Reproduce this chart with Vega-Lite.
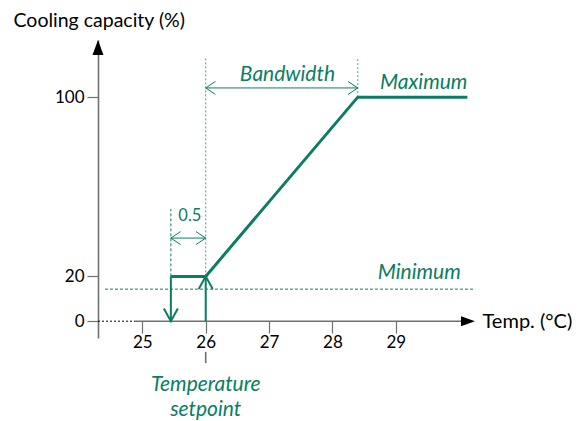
{
  "$schema": "https://vega.github.io/schema/vega-lite/v6.json",
  "width": 377,
  "height": 298,
  "autosize": {"type": "none"},
  "padding": {"left": 98, "top": 40, "right": 110, "bottom": 83},
  "background": "white",
  "config": {"view": {"stroke": null}, "font": "Lato"},
  "datasets": {
    "curve": [
      {"i": 0, "temp": 25.45, "cap": 20},
      {"i": 1, "temp": 26, "cap": 20},
      {"i": 2, "temp": 28.4, "cap": 100},
      {"i": 3, "temp": 30.13, "cap": 100}
    ],
    "segs": [
      {"kind": "shaft", "x": 25.45, "y": 20, "x2": 25.45, "y2": 0.3},
      {"kind": "shaft", "x": 26, "y": 0, "x2": 26, "y2": 19.7},
      {"kind": "dash", "x": 25.45, "y": 20, "x2": 25.45, "y2": 50.1},
      {"kind": "dot", "x": 26, "y": 20, "x2": 26, "y2": 117.9},
      {"kind": "dot", "x": 28.4, "y": 100, "x2": 28.4, "y2": 117.9},
      {"kind": "thin", "x": 26, "y": 104.1, "x2": 28.4, "y2": 104.1},
      {"kind": "thin", "x": 25.45, "y": 37.1, "x2": 26, "y2": 37.1},
      {"kind": "min", "x": 24.41, "y": 14.3, "x2": 30.25, "y2": 14.3},
      {"kind": "xdot", "x": 24.3, "y": 0, "x2": 24.885, "y2": 0},
      {"kind": "xaxis", "x": 24.885, "y": 0, "x2": 30.1, "y2": 0},
      {"kind": "tick", "x": 26, "y": -13.75, "x2": 26, "y2": -18.7}
    ],
    "heads": [
      {"kind": "down", "x": 25.45, "y": 0},
      {"kind": "up", "x": 26, "y": 20},
      {"kind": "left", "x": 26, "y": 104.1},
      {"kind": "right", "x": 28.4, "y": 104.1},
      {"kind": "left", "x": 25.45, "y": 37.1},
      {"kind": "right", "x": 26, "y": 37.1},
      {"kind": "yarrow", "x": 24.3, "y": 125.5},
      {"kind": "xarrow", "x": 30.25, "y": 0}
    ],
    "labels": [
      {"kind": "green", "x": 27.29, "y": 109.9, "text": "Bandwidth"},
      {"kind": "green", "x": 29.44, "y": 106.3, "text": "Maximum"},
      {"kind": "green", "x": 29.37, "y": 21.5, "text": "Minimum"},
      {"kind": "green", "x": 26.0, "y": -28.5, "text": "Temperature"},
      {"kind": "green", "x": 26.0, "y": -39.6, "text": "setpoint"},
      {"kind": "small", "x": 25.75, "y": 46.9, "text": "0.5"}
    ]
  },
  "layer": [
    {
      "data": {"name": "segs"},
      "transform": [{"filter": "datum.kind === 'min'"}],
      "mark": {"type": "rule", "color": "#0a7d63", "strokeWidth": 1, "strokeDash": [3, 2]},
      "encoding": {
        "x": {"field": "x", "type": "quantitative", "scale": {"domain": [24.3, 30.25], "nice": false, "zero": false},
          "axis": {"values": [25, 26, 27, 28, 29], "format": "d", "domain": false, "grid": false, "offset": -17, "tickSize": 12, "tickColor": "#707070", "tickWidth": 1.2,
            "labelFontSize": 17, "labelColor": "#000000", "labelPadding": 1, "labelFont": "Lato",
            "title": "Temp. (°C)", "titleX": 384, "titleY": 0, "titleAlign": "left", "titleBaseline": "middle", "titleAnchor": null,
            "titleFontSize": 20, "titleFontWeight": "normal", "titleColor": "#000000", "titleFont": "Lato"}},
        "y": {"field": "y", "type": "quantitative", "scale": {"domain": [-7.5, 125.5], "nice": false, "zero": false},
          "axis": {"values": [0, 20, 100], "domain": true, "domainColor": "#707070", "domainWidth": 1.6, "grid": false, "tickSize": 11, "tickColor": "#707070", "tickWidth": 1.2,
            "labelFontSize": 17, "labelColor": "#000000", "labelPadding": 3, "labelFont": "Lato",
            "title": "Cooling capacity (%)", "titleAngle": 0, "titleX": -85, "titleY": -20, "titleAlign": "left", "titleBaseline": "middle", "titleAnchor": null,
            "titleFontSize": 19.5, "titleFontWeight": "normal", "titleColor": "#000000", "titleFont": "Lato"}},
        "x2": {"field": "x2"},
        "y2": {"field": "y2"}
      }
    },
    {
      "data": {"name": "segs"},
      "transform": [{"filter": "datum.kind === 'dash'"}],
      "mark": {"type": "rule", "color": "#0a7d63", "strokeWidth": 1, "strokeDash": [3, 2]},
      "encoding": {"x": {"field": "x", "type": "quantitative"}, "y": {"field": "y", "type": "quantitative"}, "x2": {"field": "x2"}, "y2": {"field": "y2"}}
    },
    {
      "data": {"name": "segs"},
      "transform": [{"filter": "datum.kind === 'dot'"}],
      "mark": {"type": "rule", "color": "#3fa68c", "strokeWidth": 1, "strokeDash": [2, 2]},
      "encoding": {"x": {"field": "x", "type": "quantitative"}, "y": {"field": "y", "type": "quantitative"}, "x2": {"field": "x2"}, "y2": {"field": "y2"}}
    },
    {
      "data": {"name": "segs"},
      "transform": [{"filter": "datum.kind === 'thin'"}],
      "mark": {"type": "rule", "color": "#0a7d63", "strokeWidth": 1},
      "encoding": {"x": {"field": "x", "type": "quantitative"}, "y": {"field": "y", "type": "quantitative"}, "x2": {"field": "x2"}, "y2": {"field": "y2"}}
    },
    {
      "data": {"name": "segs"},
      "transform": [{"filter": "datum.kind === 'xdot'"}],
      "mark": {"type": "rule", "color": "#000000", "strokeWidth": 1, "strokeDash": [2, 2]},
      "encoding": {"x": {"field": "x", "type": "quantitative"}, "y": {"field": "y", "type": "quantitative"}, "x2": {"field": "x2"}, "y2": {"field": "y2"}}
    },
    {
      "data": {"name": "segs"},
      "transform": [{"filter": "datum.kind === 'xaxis' || datum.kind === 'tick'"}],
      "mark": {"type": "rule", "color": "#707070", "strokeWidth": 1.6},
      "encoding": {"x": {"field": "x", "type": "quantitative"}, "y": {"field": "y", "type": "quantitative"}, "x2": {"field": "x2"}, "y2": {"field": "y2"}}
    },
    {
      "data": {"name": "segs"},
      "transform": [{"filter": "datum.kind === 'shaft'"}],
      "mark": {"type": "rule", "color": "#0a7d63", "strokeWidth": 2},
      "encoding": {"x": {"field": "x", "type": "quantitative"}, "y": {"field": "y", "type": "quantitative"}, "x2": {"field": "x2"}, "y2": {"field": "y2"}}
    },
    {
      "data": {"name": "curve"},
      "mark": {"type": "line", "color": "#0a7d63", "strokeWidth": 3, "strokeJoin": "miter"},
      "encoding": {"x": {"field": "temp", "type": "quantitative"}, "y": {"field": "cap", "type": "quantitative"}, "order": {"field": "i"}}
    },
    {
      "data": {"name": "heads"},
      "transform": [{"filter": "datum.kind === 'down'"}],
      "mark": {"type": "point", "shape": "M-1,-1.8L0,0L1,-1.8", "size": 196, "filled": false, "stroke": "#0a7d63", "strokeWidth": 2, "opacity": 1},
      "encoding": {"x": {"field": "x", "type": "quantitative"}, "y": {"field": "y", "type": "quantitative"}}
    },
    {
      "data": {"name": "heads"},
      "transform": [{"filter": "datum.kind === 'up'"}],
      "mark": {"type": "point", "shape": "M-1,1.8L0,0L1,1.8", "size": 196, "filled": false, "stroke": "#0a7d63", "strokeWidth": 2, "opacity": 1},
      "encoding": {"x": {"field": "x", "type": "quantitative"}, "y": {"field": "y", "type": "quantitative"}}
    },
    {
      "data": {"name": "heads"},
      "transform": [{"filter": "datum.kind === 'left'"}],
      "mark": {"type": "point", "shape": "M1.5,-1L0,0L1.5,1", "size": 169, "filled": false, "stroke": "#0a7d63", "strokeWidth": 1, "opacity": 1},
      "encoding": {"x": {"field": "x", "type": "quantitative"}, "y": {"field": "y", "type": "quantitative"}}
    },
    {
      "data": {"name": "heads"},
      "transform": [{"filter": "datum.kind === 'right'"}],
      "mark": {"type": "point", "shape": "M-1.5,-1L0,0L-1.5,1", "size": 169, "filled": false, "stroke": "#0a7d63", "strokeWidth": 1, "opacity": 1},
      "encoding": {"x": {"field": "x", "type": "quantitative"}, "y": {"field": "y", "type": "quantitative"}}
    },
    {
      "data": {"name": "heads"},
      "transform": [{"filter": "datum.kind === 'yarrow'"}],
      "mark": {"type": "point", "shape": "M0,0L-0.73,2L0.73,2Z", "size": 225, "filled": true, "fill": "#000000", "strokeWidth": 0, "opacity": 1},
      "encoding": {"x": {"field": "x", "type": "quantitative"}, "y": {"field": "y", "type": "quantitative"}}
    },
    {
      "data": {"name": "heads"},
      "transform": [{"filter": "datum.kind === 'xarrow'"}],
      "mark": {"type": "point", "shape": "M0,0L-2.5,-0.9L-2.5,0.9Z", "size": 125, "filled": true, "fill": "#000000", "strokeWidth": 0, "opacity": 1},
      "encoding": {"x": {"field": "x", "type": "quantitative"}, "y": {"field": "y", "type": "quantitative"}}
    },
    {
      "data": {"name": "labels"},
      "transform": [{"filter": "datum.kind === 'green'"}],
      "mark": {"type": "text", "color": "#0a7d63", "fontSize": 21, "fontStyle": "italic", "font": "Lato", "align": "center", "baseline": "middle"},
      "encoding": {"x": {"field": "x", "type": "quantitative"}, "y": {"field": "y", "type": "quantitative"}, "text": {"field": "text"}}
    },
    {
      "data": {"name": "labels"},
      "transform": [{"filter": "datum.kind === 'small'"}],
      "mark": {"type": "text", "color": "#0a7d63", "fontSize": 16.5, "font": "Lato", "align": "center", "baseline": "middle"},
      "encoding": {"x": {"field": "x", "type": "quantitative"}, "y": {"field": "y", "type": "quantitative"}, "text": {"field": "text"}}
    }
  ]
}
